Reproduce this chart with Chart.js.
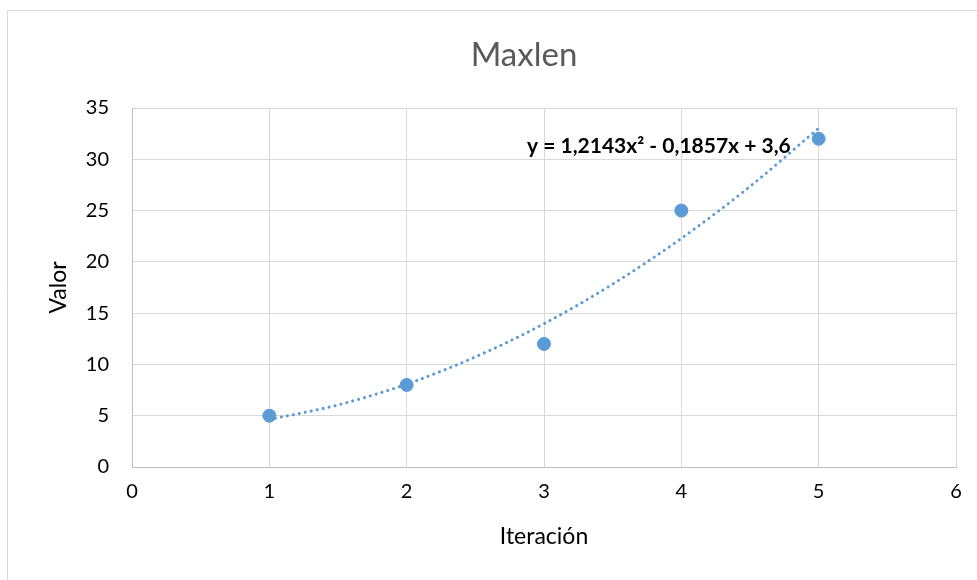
<!DOCTYPE html>
<html><head><meta charset="utf-8">
<script src="https://cdn.jsdelivr.net/npm/chart.js@4/dist/chart.umd.min.js"></script>
<style>html,body{margin:0;padding:0;background:#fff;overflow:hidden}#wrap{width:977px;height:580px;position:relative}</style>
</head><body><div id="wrap"><canvas id="c" width="977" height="580"></canvas></div>
<script>
const iterations = [1, 2, 3, 4, 5];
const valores = [5, 8, 12, 25, 32];
const trendX = [1, 1.5, 2, 2.5, 3, 3.5, 4, 4.5, 5];
const trendY = [4.63, 6.05, 8.08, 10.73, 13.97, 17.83, 22.29, 27.35, 33.03];
const xTicks = [0, 1, 2, 3, 4, 5, 6];
const yTicks = [0, 5, 10, 15, 20, 25, 30, 35];
const titleText = 'Maxlen';
const xTitle = 'Iteración';
const yTitle = 'Valor';
const eqText = 'y = 1,2143x² - 0,1857x + 3,6';

const blue = '#5B9BD5';
const FONT = 'Lato, "Open Sans", sans-serif';

const decor = {
  id: 'decor',
  beforeDraw(chart) {
    const ctx = chart.ctx;
    ctx.save();
    ctx.fillStyle = '#fff';
    ctx.fillRect(0, 0, chart.width, chart.height);
    ctx.strokeStyle = '#d9d9d9';
    ctx.lineWidth = 1;
    ctx.beginPath();
    ctx.moveTo(7.5, 600); ctx.lineTo(7.5, 10.5); ctx.lineTo(990, 10.5);
    ctx.stroke();
    ctx.restore();
  },
  afterDraw(chart) {
    const ctx = chart.ctx;
    const xs = chart.scales.x, ys = chart.scales.y;
    ctx.save();
    ctx.fillStyle = '#595959';
    ctx.textAlign = 'center';
    ctx.textBaseline = 'middle';
    ctx.font = '33px ' + FONT;
    ctx.fillText(titleText, 524, 55);
    ctx.fillStyle = '#000';
    ctx.font = '23px ' + FONT;
    ctx.fillText(xTitle, (xs.getPixelForValue(0) + xs.getPixelForValue(6)) / 2, 537);
    ctx.save();
    ctx.translate(59, (ys.top + ys.bottom) / 2);
    ctx.rotate(-Math.PI / 2);
    ctx.fillText(yTitle, 0, 0);
    ctx.restore();
    ctx.font = 'bold 21px ' + FONT;
    ctx.textAlign = 'left';
    ctx.fillText(eqText, 527, 146);
    ctx.restore();
  }
};

new Chart(document.getElementById('c'), {
  type: 'scatter',
  data: {
    datasets: [
      {
        label: 'Maxlen',
        data: iterations.map((x, i) => ({ x, y: valores[i] })),
        backgroundColor: blue,
        borderColor: blue,
        pointRadius: 6.5,
        pointHoverRadius: 6.5,
        showLine: false,
        order: 1
      },
      {
        label: 'Tendencia',
        type: 'line',
        data: trendX.map((x, i) => ({ x, y: trendY[i] })),
        borderColor: blue,
        borderWidth: 3,
        borderDash: [0.1, 6],
        borderCapStyle: 'round',
        pointRadius: 0,
        fill: false,
        cubicInterpolationMode: 'monotone',
        order: 0
      }
    ]
  },
  options: {
    responsive: false,
    devicePixelRatio: 1,
    animation: false,
    layout: { padding: { top: 108, right: 21, left: 0, bottom: 0 } },
    plugins: { legend: { display: false }, tooltip: { enabled: false }, title: { display: false } },
    scales: {
      x: {
        type: 'linear', min: 0, max: 6,
        afterBuildTicks: s => { s.ticks = xTicks.map(v => ({ value: v })); },
        afterFit: s => { s.height = 113; },
        grid: { color: '#d9d9d9', drawTicks: false },
        border: { color: '#bfbfbf' },
        ticks: { color: '#000', font: { family: FONT, size: 20 }, padding: 13 }
      },
      y: {
        type: 'linear', min: 0, max: 35,
        afterBuildTicks: s => { s.ticks = yTicks.map(v => ({ value: v })); },
        afterFit: s => { s.width = 132; },
        grid: { color: '#d9d9d9', drawTicks: false },
        border: { color: '#bfbfbf' },
        ticks: { color: '#000', font: { family: FONT, size: 20 }, padding: 23 }
      }
    }
  },
  plugins: [decor]
});
</script>
</body></html>
